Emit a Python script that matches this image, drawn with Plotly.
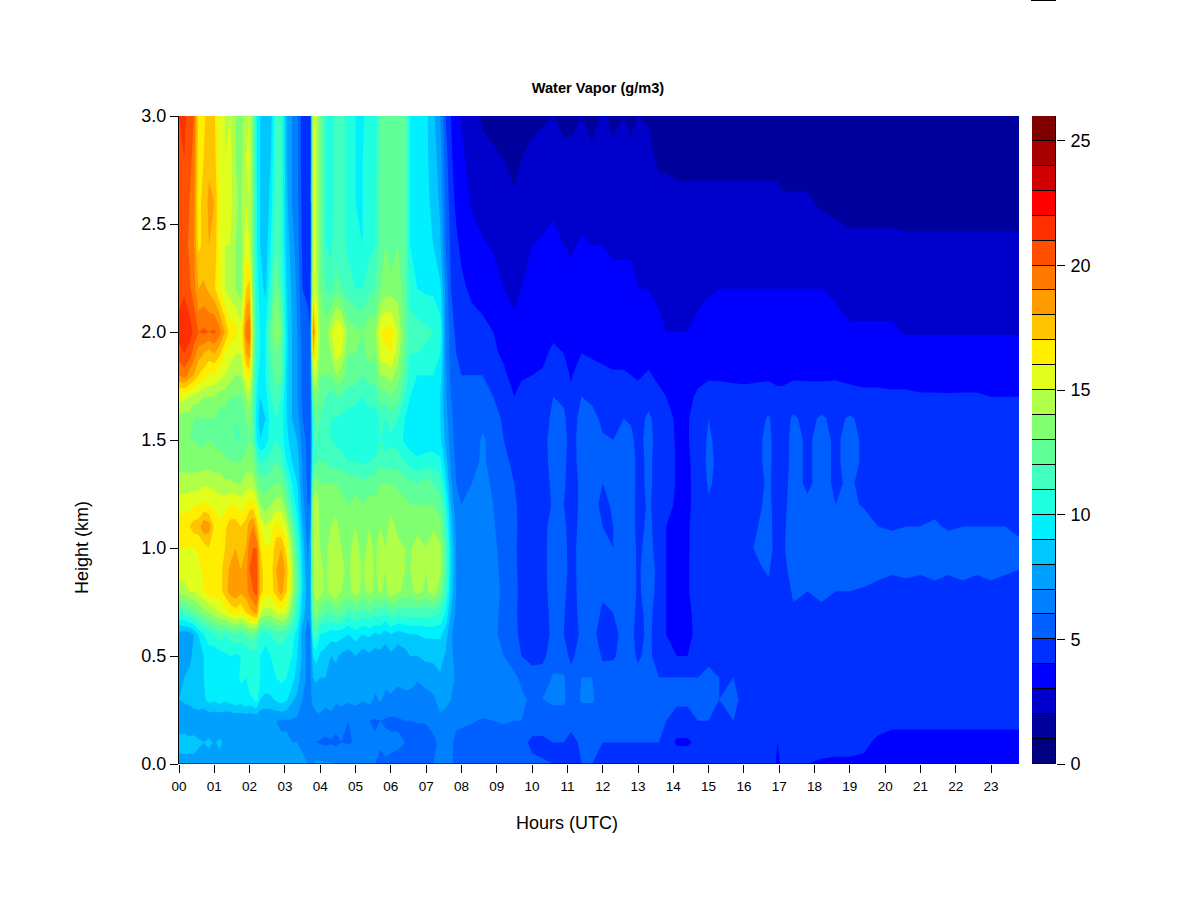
import plotly.graph_objects as go

heights_km = [0, .1, .2, .3, .4, .5, .6, .7, .8, .9, 1.0, 1.1, 1.2, 1.3, 1.4, 1.5, 1.6, 1.7, 1.8, 1.9, 2.0, 2.2, 2.4, 2.6, 2.8, 3.0]

hours_utc = [0, .15, .3, .42, .55, .7, .85, 1.0, 1.15, 1.3, 1.45, 1.6, 1.75, 1.9, 2.0, 2.1, 2.2, 2.3, 2.45, 2.6, 2.75, 2.9, 3.05, 3.2, 3.35, 3.5, 3.65, 3.72, 3.8, 3.88,
             4.0, 4.15, 4.3, 4.45, 4.6, 4.8, 5.0, 5.2, 5.4, 5.55, 5.7, 5.85, 6.0, 6.2, 6.4, 6.55, 6.75, 7.0, 7.2, 7.4, 7.55, 7.7, 7.85, 8.0,
             8.3, 8.6, 8.9, 9.2, 9.5, 9.7, 10.0, 10.3, 10.6, 10.9, 11.1, 11.4, 11.7, 12.0, 12.3, 12.6, 12.8, 13.0, 13.3, 13.6, 13.8, 14.1, 14.4, 14.7,
             15.0, 15.3, 15.7, 16.0, 16.4, 16.7, 16.95, 17.1, 17.4, 17.8, 18.2, 18.6, 19.0, 19.4, 19.8, 20.2, 20.6, 21.0, 21.4, 21.8, 22.2, 22.6, 23.0, 23.4, 23.8]

# one profile per entry of hours_utc, bottom to top (g/m3)
vapor_profiles = [
[7.5,8.5,7.2,8.0,7.8,7.5,7.6,11,14.5,15.5,16,16.5,15.5,14.5,13.5,13,13.5,15.5,19,20.5,21.5,20.5,20,20.5,20.8,21],
[7.5,8.6,7.1,8.2,8,7.6,7.4,11.5,14.5,15.5,16,16.8,15.5,14.5,13.5,13,13.5,15.3,19.5,21,22,20.8,20.5,20.8,21,21.2],
[7.6,8.4,7.0,8.4,8.2,7.8,7.5,12,15,15.5,16,17,15.7,14.5,13.5,13,13.5,15,18.5,20.5,21.5,20.2,19.8,20,20.2,20.5],
[7.6,8.5,7.0,8.8,8.5,8.2,8,12.5,15,15.5,16,17.5,15.8,14.5,13.5,13,13,14.5,18,19.5,20.8,19.5,19.2,19.5,19.8,20],
[7.5,8.2,7,9,8.8,8.6,9,13,15.5,15.5,16.2,17.5,16,14.5,13.5,12.8,13,14.5,17,18.5,20,18,16.8,16.5,16.5,16.7],
[7.6,8,7,8.8,9,9,10,13.5,16,16.3,16.5,18.8,16.2,14.8,13.5,12.8,13,14,16.5,18,20.2,18.2,17.2,17.5,17,16.8],
[7.5,8.2,7.1,9.4,9.2,9.5,10.5,14,16.5,17,17,18.5,16,14.8,13.5,13,13,14,16,17.5,20,17.8,18,18.2,17.8,17.5],
[7.5,7.9,7.1,9.2,9.5,9.2,11,14.5,16.8,17,16.8,16.8,15.8,14.5,13.5,12.8,13,14,15.8,18,20.2,17.2,17.8,18,17.5,17.2],
[7.6,8.2,7,9.6,9.8,9.5,11.5,15,16.5,16.5,16.5,16.2,15.5,14.5,13.5,12.5,12.5,13.5,15.5,17.2,19.5,16,15.8,16,15.5,15.5],
[7.5,7.8,7.1,9.2,9.8,9.8,11,15.5,17.5,17.5,17,16.8,15.5,14.2,13.2,12.5,12.5,13.5,15,16,18,15,15,15.2,15,15],
[7.7,8,7,9.5,10,10,11.5,16,18.5,18.2,17.5,17.5,16,14.2,13,12.3,12.5,13,14.5,15.5,16.5,14.5,15,15.5,15.5,15],
[7.5,7.7,7,9.8,9.5,9.8,12,16.5,18.8,18.5,18,17.5,16,14,13,12,12,13,14,15,16.5,14,14,14.2,14,14],
[7.6,7.8,7.1,9.5,10.2,10,11.5,16,18.3,18,17.5,17,15.5,14,13,12,12.2,12.8,14,15,15.5,13.5,13.5,13.8,13.5,13.5],
[7.5,7.6,7.1,10,10,10.2,12,17,18.5,18.5,18,17.5,16,14.5,13.5,12.5,13,14,16,18,19.5,17,15.5,15,15,14.8],
[7.5,7.5,7.0,9.8,10.5,10.3,12.5,17.5,19.5,20,19.5,18.5,16.5,14.5,13.5,13,13.5,14.5,16.5,18.5,20,17.5,15,15,15.2,15],
[7.6,7.5,7.1,10,10.5,10.5,12.5,18,20,20.5,20,19,16.5,14.5,13.5,12.5,12,12.5,13,13.5,14,13,12.8,13,13,13],
[7.5,7.4,7,10.5,11,10.5,12,18.5,20.5,20.5,20,17.5,15.5,13.5,12,10,9.5,10,10.5,10.8,11,10.5,10.2,10.2,10,10],
[7.4,7.4,7,9,10,10,11,15,17.5,17.5,17,16,14,12.5,11,9,8.5,9,9.5,10,10,9.5,9,9,9,9],
[7.3,7.3,7,8.8,9.5,9.5,10.5,14.5,16.5,16.5,16,15,13.5,12.5,11,9.5,9,9.5,10,10,10,8.7,8.3,8,8,8],
[7.3,7.2,7,8.8,9.8,10,11,14.5,16.5,16.5,16.2,15.5,14,12.8,11.5,10.5,10.5,11,11.5,12,12.5,11,10,9.5,9,8.5],
[7.2,7.1,7,9.2,10,10.2,11.5,15,17.5,18,17.5,16.5,14.5,13,12,11,11,11.8,12.5,13,14,13,12,11.5,11.5,11.5],
[7.2,7.1,6.9,9.5,10.2,10.2,11.5,15.5,18.5,19,18,16,14.5,13,11.5,10.5,10.5,11,12,12.5,13,11.5,11,11,11,11],
[7.2,7.1,6.9,9.2,10,10.2,11.2,15,17,17.5,16.5,15,13,11.5,10,9.3,9,9,9,9.2,9.2,9,8.5,8.2,8,8],
[7.2,7,6.9,8.2,9.5,10,10.5,13,14.5,14.5,14,12.5,11,10,9,8.5,8,8,8,8,8,7.8,7.5,7,7,7],
[7.1,7,6.8,7.8,8.5,9,9.5,11,12,12,11.5,10.5,9.5,9,8.5,8,7.5,7,7,7,7,6.8,6.5,6.3,6.2,6.2],
[7.1,6.9,6.7,7,7.5,7.8,7.5,8.5,9,9,8.5,8,7.5,7,6.8,6.5,6,5.8,5.8,5.8,5.5,5,4.8,4.6,4.5,4.5],
[7,6.9,6.6,6.7,6.7,6.6,6.5,7.2,7.5,7,6.8,6.2,6,5.8,5.7,5.6,5.6,5.5,5.5,5.5,5.3,4.8,4.5,4.3,4.2,4.2],
[7,6.8,6.5,6.8,6.8,6.8,6.8,7.5,7.8,7.5,7.5,7,6,5.7,5.6,5.5,5.5,5,5,5.2,5,4.5,4.2,4.2,4.1,4.1],
[7,6.2,6.6,7.2,8,9,11,13,14,14.5,15,15,14.5,13,11.5,11,11.5,13,15,17.5,19.5,16,15.5,15.5,15.5,15.5],
[7.2,6,6.7,7.4,8.2,9.5,11.5,13.5,14.5,15,15,15,15,13.5,12,12,12.5,13.5,15,16,16.5,15,15,15,15,15],
[7.2,5.9,6.7,7.6,8,8.8,10,12.5,14.6,14.3,14,13.8,13.5,13,12,12,12,12.5,13,13.5,14,13,13,13,13,13],
[7.1,5.8,6.5,7.3,8,8.5,9.8,12,13.7,13.8,13.8,13.6,13.3,13,12,11.5,11.5,12,13,13.5,13.5,12,11,11,11,11],
[7.1,5.9,6.6,7.5,7.9,8,9.5,12,14.5,14.5,14.3,14,13.5,13,11.5,11,11,11.5,13,14,14.8,11.5,10.8,10.5,10.3,10.3],
[7,5.8,6.3,7.2,7.6,8.2,9.5,12.5,14.8,14.8,14.5,14.2,13.8,13,11.5,10.8,11,12,14,15.5,16,12.5,11.5,11.5,11.5,11.5],
[7,6,6.2,7.4,7.8,7.8,9.3,12.5,14,14.2,14,13.7,13.3,12.8,11.5,10.5,10.8,12,13.5,15,15.8,12,11.5,11.5,11.5,11.5],
[7,5.9,6,7.2,7.6,7.5,9,11.5,13.6,13.8,13.8,13.5,13,12.5,11,10.3,10.5,11.5,12.5,13,13.5,11.5,10.7,10.7,10.5,10.5],
[7,6.1,6.1,7.4,7.8,8,9.5,12,14.6,14.7,14.3,14,13.5,12.5,11,10.2,10.3,11.5,12.5,13,13.3,11,10.3,10,10,10],
[6.9,6.2,6,7.1,7.3,7.5,9,11.5,13.7,13.9,13.7,13.5,13,12.2,10.8,10,10.2,11,12,12.5,13,11,10,10,10,9.8],
[6.4,6.2,6,7.3,7.6,7.8,9.2,12,14.4,14.6,14.3,14,13.5,12.5,11,10.5,10.5,11.5,12.5,13.5,14,11.5,10.8,10.7,10.8,10.6],
[6,6.1,5.9,6.9,7.2,7.5,8.8,11.5,13.7,13.8,13.8,13.6,13.2,12.5,11.2,10.3,10.5,11.5,12.3,13,13.5,12,11,10.8,10.5,10.2],
[5.8,6.1,6,7.1,7.4,7.6,9,11.5,14.2,14.6,14.4,14,13.6,13,11.8,11,11.2,12.5,14,15.5,16,13,12.3,12.3,12.3,12.2],
[5.9,6.2,5.9,6.8,7.2,7.3,8.5,11,13.7,14,14,13.7,13.3,13,11.5,10.5,11,12.5,14,15.8,16.2,13.5,13,13,13,13],
[5.8,6.2,5.8,6.9,7.3,7.8,9,12,14.8,15,14.7,14.3,13.8,13,11.5,10.8,11.5,13,14.5,16,16.5,13.5,12.3,12.3,12.3,12.3],
[5.8,6.1,5.9,6.7,7.2,7.4,8.5,11.5,14.2,14.3,14.2,13.8,13.5,12.8,11.5,10.5,11,12.5,13.5,14.5,15,13.5,13,13,13,13],
[5.8,6,6,6.7,7.4,7.6,8.8,11.5,13.7,14,14,13.7,13.2,12.5,11,9.8,10,11,12,12.5,12.8,12.5,12.5,12.5,12.5,12.5],
[5.8,5.6,6,6.5,7.6,8,9,11.5,13.6,14,13.9,13.7,13,12.3,10.5,9.5,9.5,10,10.5,11,11.5,10.5,10,10,10,10],
[5.8,5.2,6.1,6.2,7.2,8,9,11.5,14.4,14.6,14.3,13.8,13,12,10.2,9.3,9.2,9.5,10,11,11.5,10,9.5,9.5,9.5,9.5],
[5.9,5.4,6.1,6.5,7.5,8.2,9.2,11.5,13.8,14,14,13.7,13,12.5,10.5,9.3,9.3,9.6,10,10.8,11.2,9.8,9.3,9.2,9.2,9.2],
[6,5.8,6.3,6.8,7.6,8.2,9.2,11.5,14.6,14.9,14.6,13.9,13,12,10.5,9.4,9.2,9.5,10,10.5,11,9.8,9,8.8,8.5,8.3],
[6.2,6.2,6.7,7.5,7.9,8.3,9.2,11,13.3,14.2,14.2,13.3,12.5,11.5,10.2,9.2,9,9,9.5,10,10.5,9.2,8.2,7.8,7.5,7],
[6.2,6.4,6.7,7.2,7.6,7.9,8.5,10,11.5,12,12,11.5,10.5,9.5,8.5,7.8,7.5,7.2,7.2,7,7,6.8,6,5.8,5.5,5],
[6.2,6.4,6.6,7,7.3,7.2,7.2,8,8.8,9,9,8.5,8,7.2,6.8,6.5,6.3,6,5.8,5.5,5.5,5,4.8,4.5,4.2,4],
[5.6,5.5,6.4,6.7,6.9,6.7,6.4,6.8,7,7,7,6.8,6.2,6,5.8,5.5,5.5,5.4,5.2,5,4.8,4.5,4.2,3.8,3.5,3.2],
[5.5,5.4,6.3,6.7,6.9,6.5,6.3,6.3,6.5,6.6,6.4,6.3,6,5.9,5.6,5.5,5.4,5.2,5,4.8,4.6,4.2,3.8,3.4,3.2,2.9],
[5.4,5.4,6.1,6.7,6.8,6.5,6.4,6.5,6.6,6.5,6.5,6.3,6.2,6,5.8,5.6,5.5,5.2,5,4.8,4.4,3.8,3.3,2.9,2.6,2.2],
[5.4,5.4,5.9,6.7,6.8,6.6,6.5,6.6,6.7,6.6,6.5,6.4,6.3,6.2,6.1,6.1,5.8,5.3,5,4.6,4.2,3.7,3.1,2.6,2.2,1.9],
[5.4,5.4,6,6.6,6.8,6.5,6.3,6.4,6.5,6.4,6.3,6.1,6,5.9,5.8,5.7,5.5,5,4.6,4.2,4,3.4,2.9,2.5,2.1,1.8],
[5.4,5.5,6.1,6.7,6.7,6,5.6,5.6,5.7,5.6,5.5,5.5,5.4,5.3,5.2,5,4.8,4.5,4.2,3.8,3.5,3,2.7,2.4,2,1.6],
[5.5,5.7,6,6.4,6.2,5.4,5.2,5.2,5.3,5.2,5.2,5.3,5.2,5,4.8,4.5,4.2,4,3.6,3.2,3.1,2.9,2.5,2.1,1.8,1.5],
[5.4,5.3,6,6.2,5.8,5,4.8,4.7,4.7,4.7,4.6,4.6,4.6,4.6,4.6,4.6,4.5,4.3,3.9,3.5,3.3,3.0,2.8,2.3,2,1.8],
[5.2,4.8,5.5,5.8,5.5,4.6,4.5,4.5,4.5,4.5,4.5,4.5,4.5,4.5,4.5,4.5,4.5,4.3,4,3.8,3.5,3.2,3,2.5,2.1,1.9],
[5.1,4.7,5.7,6,5.5,4.7,4.6,4.6,4.6,4.6,4.6,4.6,4.6,4.6,4.6,4.6,4.6,4.4,4.1,3.8,3.6,3.4,3.1,2.7,2.3,1.9],
[5,5,5.5,6.2,6.1,5.6,5.2,5.3,5.5,5.6,5.6,5.5,5.1,5.2,5.4,5.5,5.2,5,4.6,4.2,3.8,3.6,3.3,2.8,2.4,2],
[5,5,5.5,6.2,6.1,5.4,5,5.1,5.3,5.5,5.4,5.3,5,5.2,5.3,5.5,5.2,4.8,4.4,4,3.6,3.4,3,2.6,2.2,1.8],
[5,4.8,5.2,5.4,5.3,4.8,4.4,4.4,4.4,4.5,4.5,4.4,4.4,4.4,4.4,4.4,4.4,4.2,3.9,3.7,3.5,3.3,2.9,2.5,2.2,1.8],
[5,5.1,5.5,6.1,6,5.4,5.2,5.4,5.5,5.5,5.5,5.4,5.3,5.3,5.5,5.6,5.4,5,4.5,4,3.7,3.5,3.1,2.7,2.4,2],
[5,5.1,5.6,6.1,6,5.5,5.2,5.3,5.4,5.4,5.3,5.2,5.3,5.4,5.3,5.5,5.3,4.8,4.3,3.9,3.7,3.4,3,2.6,2.2,1.7],
[5,5,5.3,5.6,5.3,4.9,4.7,4.9,5.1,5.1,5.2,5,4.8,5,5.2,5.1,4.8,4.5,4.2,3.8,3.6,3.3,3,2.7,2.4,2.1],
[5,5,5.4,5.9,5.4,4.9,4.8,5,5.2,5.3,5,5,5.1,5.2,5.2,5,4.9,4.5,4.1,3.7,3.5,3.2,2.9,2.5,2.2,1.8],
[5,5,5.6,6,5.8,5.3,5.2,5.3,5.5,5.5,5.4,5.3,5.3,5.4,5.4,5.3,5,4.5,4.1,3.7,3.5,3.2,2.9,2.5,2.3,2],
[5,5,5.3,5.7,5.7,5.2,5.2,5.4,5.6,5.6,5.5,5.4,5.4,5.5,5.5,5.2,4.9,4.4,4,3.7,3.5,3.2,2.9,2.6,2.2,1.8],
[5,5,5.1,5.3,5.2,4.9,4.7,4.7,4.8,4.8,4.8,4.7,4.7,4.7,4.7,4.7,4.6,4.3,3.9,3.6,3.3,3,2.8,2.6,2.3,2],
[5,5,5.3,5.5,5.5,5.2,5.2,5.3,5.5,5.6,5.3,5.2,5.1,5.2,5.2,5.3,5.2,4.6,4.1,3.7,3.3,3,2.8,2.6,2.3,1.9],
[5,5,5.1,5.2,5,4.6,4.5,4.5,4.6,4.6,4.6,4.6,4.6,4.6,4.6,4.6,4.5,4.2,3.8,3.4,3.1,2.9,2.7,2.4,1.8,1.5],
[5,4.7,5,5.1,5,4.3,4,4,4,4,4,4,4.2,4.5,4.5,4.4,4.2,4,3.7,3.3,3.0,2.9,2.7,2.4,1.8,1.5],
[5,3.8,4.8,5.1,5,4,3.8,3.8,3.8,3.9,3.9,3.9,3.9,3.9,3.9,3.9,3.9,3.7,3.5,3.2,3.0,2.8,2.6,2.3,1.7,1.5],
[5,3.8,4.8,5.1,5,4,3.8,3.8,3.9,3.9,3.9,3.9,3.8,3.8,3.8,3.9,3.9,3.7,3.4,3.2,3.0,2.8,2.6,2.3,1.7,1.5],
[5,4.3,5,5.1,5,4.6,4.2,4.3,4.5,4.5,4.4,4.4,4.4,4.4,4.5,4.6,4.5,4.2,3.7,3.4,3.1,2.9,2.6,2.3,1.7,1.5],
[5,4.8,5,5.1,5.1,4.9,4.9,4.9,4.9,4.9,4.9,4.9,4.9,5.1,5.2,5.1,5,4.6,3.8,3.5,3.2,2.95,2.6,2.3,1.7,1.4],
[5,4.7,5,5,5,4.9,4.8,4.8,4.8,4.8,4.8,4.8,4.8,4.8,4.8,4.8,4.8,4.5,3.8,3.5,3.3,3.0,2.6,2.3,1.7,1.4],
[4.9,4.8,5,5.1,5,4.8,4.8,4.8,4.8,4.8,4.8,4.8,4.8,4.8,4.8,4.8,4.8,4.5,3.7,3.5,3.3,3.0,2.6,2.3,1.7,1.4],
[4.8,4.7,4.8,4.9,4.8,4.6,4.6,4.7,4.7,4.7,4.8,4.7,4.7,4.7,4.7,4.7,4.7,4.4,3.7,3.5,3.3,3.0,2.6,2.3,1.7,1.4],
[4.7,4.6,4.8,4.8,4.8,4.6,4.6,4.7,4.8,4.9,5.1,5,4.8,4.7,4.8,4.8,4.7,4.4,3.8,3.5,3.3,3.0,2.6,2.3,1.7,1.4],
[4.4,4.5,4.7,4.7,4.7,4.6,4.6,4.7,4.8,5.1,5.5,5.4,5.3,5.2,5.3,5.3,5.1,4.5,3.8,3.5,3.3,3.0,2.6,2.3,1.7,1.4],
[3.9,4,4.2,4.1,4.1,4.1,4.1,4.2,4.4,4.4,4.4,4.4,4.4,4.4,4.4,4.4,4.5,4.2,3.8,3.5,3.3,3.0,2.6,2.3,1.7,1.4],
[4.1,4.1,4.4,4.5,4.4,4.4,4.4,4.5,4.6,4.7,4.8,4.8,4.8,4.8,4.7,4.7,4.7,4.3,3.7,3.5,3.3,3.0,2.5,2.1,1.7,1.4],
[4.2,4.5,4.7,4.8,4.8,4.8,4.8,4.9,5.1,5.4,5.7,5.5,5.3,5.2,5.2,5.2,5.1,4.6,3.8,3.5,3.3,3.0,2.5,2.1,1.7,1.4],
[4,4.5,4.8,4.8,4.8,4.8,4.8,4.9,5,5.4,5.7,5.6,5.1,4.9,4.9,4.9,4.8,4.5,3.8,3.5,3.3,3.0,2.5,2.1,1.7,1.4],
[3.9,4.3,4.7,4.8,4.8,4.8,4.8,4.9,5.1,5.4,5.8,5.7,5.3,5.2,5.2,5.2,5.1,4.5,3.8,3.5,3.3,3.0,2.4,1.9,1.6,1.3],
[3.9,4.2,4.6,4.7,4.7,4.7,4.8,4.8,5,5.3,5.7,5.6,5,4.9,4.9,4.9,4.8,4.6,3.8,3.4,3.2,2.9,2.3,1.8,1.5,1.3],
[3.9,4.2,4.5,4.6,4.7,4.7,4.7,4.8,5,5.5,5.7,5.6,5.2,5.1,5.2,5.2,5.1,4.4,3.7,3.4,3.1,2.7,2.2,1.7,1.5,1.3],
[3.9,4.1,4.4,4.6,4.6,4.7,4.7,4.8,4.9,5.4,5.7,5.5,4.9,4.8,4.9,4.9,4.8,4.3,3.6,3.4,3.1,2.7,2.2,1.7,1.4,1.3],
[3.8,3.9,4.2,4.5,4.6,4.6,4.7,4.7,4.8,5.2,5.5,5,4.7,4.6,4.6,4.7,4.7,4.3,3.6,3.4,3.1,2.7,2.2,1.7,1.4,1.3],
[3.7,3.7,4.2,4.4,4.5,4.5,4.6,4.7,4.7,5.1,5.4,4.9,4.6,4.5,4.5,4.5,4.5,4.2,3.6,3.4,3.1,2.7,2.2,1.7,1.4,1.3],
[3.7,3.7,4.2,4.4,4.5,4.5,4.6,4.7,4.7,5.2,5.4,5,4.7,4.6,4.5,4.5,4.4,4.2,3.6,3.3,2.95,2.6,2.2,1.6,1.4,1.3],
[3.6,3.7,4.2,4.4,4.5,4.5,4.6,4.7,4.7,5.1,5.5,5,4.8,4.6,4.5,4.5,4.4,4.1,3.6,3.3,2.95,2.6,2.2,1.6,1.3,1.2],
[3.6,3.7,4.2,4.4,4.5,4.5,4.6,4.7,4.8,5.2,5.4,5.1,4.8,4.7,4.5,4.5,4.4,4.1,3.6,3.3,2.95,2.6,2.2,1.6,1.3,1.2],
[3.6,3.7,4.2,4.4,4.5,4.5,4.6,4.7,4.7,5.1,5.4,4.9,4.7,4.6,4.5,4.4,4.4,4.1,3.5,3.3,2.95,2.6,2.2,1.6,1.3,1.2],
[3.6,3.7,4.2,4.4,4.5,4.5,4.6,4.7,4.8,5.2,5.3,5,4.8,4.6,4.5,4.4,4.4,4.1,3.6,3.3,2.95,2.6,2.2,1.6,1.3,1.2],
[3.6,3.7,4.2,4.4,4.5,4.5,4.6,4.7,4.7,5.1,5.4,5,4.7,4.6,4.5,4.4,4.3,4.1,3.6,3.3,2.95,2.6,2.2,1.6,1.3,1.2],
[3.6,3.7,4.2,4.4,4.5,4.5,4.6,4.7,4.8,5.2,5.4,5,4.8,4.6,4.5,4.4,4.3,4,3.6,3.3,2.95,2.6,2.2,1.6,1.3,1.2],
[3.6,3.7,4.2,4.4,4.5,4.5,4.6,4.7,4.7,5.1,5.5,5,4.7,4.6,4.5,4.4,4.3,4,3.6,3.3,2.95,2.6,2.2,1.6,1.3,1.2],
[3.6,3.7,4.2,4.4,4.5,4.5,4.6,4.7,4.7,5,5.1,4.9,4.7,4.5,4.5,4.4,4.3,4,3.6,3.3,2.95,2.6,2.2,1.6,1.3,1.2],
]

level_colors = ["#000080", "#00009c", "#0000cc", "#0000ff", "#0030ff", "#0060ff", "#0080ff", "#00a0ff", "#00c8ff",
                "#00f0ff", "#20ffdf", "#40ffbf", "#60ff98", "#80ff70", "#b0ff48", "#e0ff1c", "#ffee00", "#ffc400",
                "#ff9c00", "#ff7800", "#ff5000", "#ff3000", "#ff0000", "#d00000", "#a80000", "#800000"]
level_bottoms = list(range(26))
colorbar_ticks = [0, 5, 10, 15, 20, 25]
hour_ticks = list(range(24))
hour_labels = [f"{h:02d}" for h in hour_ticks]
height_ticks = [0, .5, 1, 1.5, 2, 2.5, 3]
height_labels = ["0.0", "0.5", "1.0", "1.5", "2.0", "2.5", "3.0"]

FONT = "Liberation Sans"
W, H = 1200, 900
n = len(level_bottoms)
scale = []
for i, c in enumerate(level_colors):
    scale += [[i / n, c], [(i + 1) / n, c]]

z = [list(r) for r in zip(*vapor_profiles)]

fig = go.Figure()
fig.add_trace(go.Contour(
    x=hours_utc, y=heights_km, z=z, zmin=0, zmax=26, autocontour=False,
    contours=dict(start=0, end=26, size=1, coloring="fill", showlines=False),
    line=dict(width=0, smoothing=0), colorscale=scale, showscale=False, xaxis="x", yaxis="y",
))
fig.add_trace(go.Bar(
    x=[0.5] * n, y=[1] * n, base=level_bottoms, width=1, marker=dict(color=level_colors, line=dict(color="#000000", width=1)),
    showlegend=False, xaxis="x2", yaxis="y2",
))

def px_x(p): return p / W
def py(p): return 1 - p / H

fig.update_layout(
    template=None,
    width=W, height=H, margin=dict(l=0, r=0, t=0, b=0, autoexpand=False), paper_bgcolor="white", plot_bgcolor="white",
    font=dict(family=FONT, color="black"), showlegend=False, bargap=0,
    xaxis=dict(domain=[px_x(179), px_x(1019)], range=[0, 23.79], tickmode="array", tickvals=hour_ticks, ticktext=hour_labels,
               ticks="outside", ticklen=8, tickwidth=1, tickcolor="black", showgrid=False, zeroline=False, showline=False, automargin=False,
               tickfont=dict(size=13.5, family=FONT), ticklabelstandoff=2),
    yaxis=dict(domain=[py(764), py(116)], range=[0, 3], tickmode="array", tickvals=height_ticks, ticktext=height_labels,
               ticks="outside", ticklen=8, tickwidth=1, tickcolor="black", showgrid=False, zeroline=False, automargin=False,
               showline=True, linecolor="black", linewidth=1, tickfont=dict(size=18, family=FONT)),
    xaxis2=dict(domain=[px_x(1032), px_x(1056)], range=[0, 1], anchor="y2", visible=False, automargin=False),
    yaxis2=dict(domain=[py(764), py(116)], range=[0, 26], anchor="x2", side="right", tickmode="array", tickvals=colorbar_ticks,
                ticks="outside", ticklen=8, tickwidth=1, tickcolor="black", showgrid=False, zeroline=False, showline=False, automargin=False,
                tickfont=dict(size=18, family=FONT), ticklabelstandoff=2),
    title=dict(text="<b>Water Vapor (g/m3)</b>", x=598 / W, xanchor="center", y=py(88), yanchor="middle",
               font=dict(size=14.6, family=FONT, color="black")),
    annotations=[
        dict(text="Hours (UTC)", xref="paper", yref="paper", x=567 / W, y=py(823), xanchor="center", yanchor="middle", showarrow=False, font=dict(size=18, family=FONT)),
        dict(text="Height (km)", xref="paper", yref="paper", x=82 / W, y=py(548), xanchor="center", yanchor="middle", showarrow=False, textangle=-90, font=dict(size=18, family=FONT)),
    ],
    shapes=[
        dict(type="line", xref="x", yref="y", x0=0, x1=23, y0=0, y1=0, line=dict(color="black", width=1)),
        dict(type="line", xref="paper", yref="paper", x0=1031 / W, x1=1056 / W, y0=1, y1=1, line=dict(color="black", width=2)),
    ],
)
fig.write_html("out.html", config={"displayModeBar": False}, post_script="document.body.style.margin='0';")
